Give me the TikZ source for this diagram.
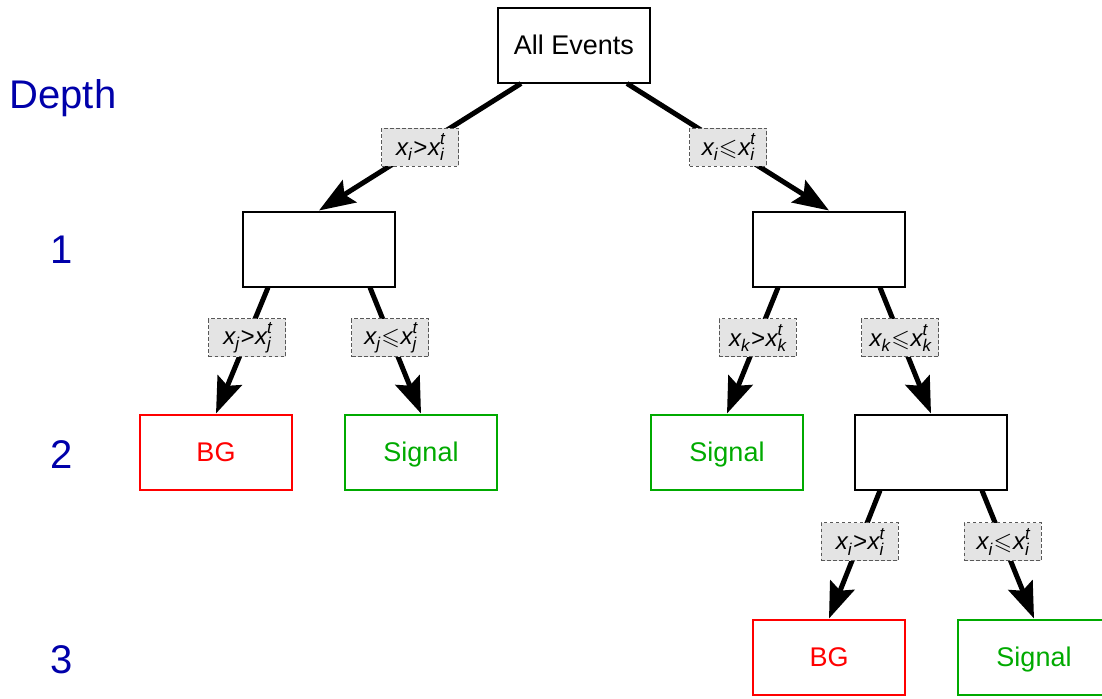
\documentclass[tikz,border=0pt]{standalone}
\usepackage{fontspec}
\usepackage{amssymb}
\setmainfont{Liberation Sans}
\usetikzlibrary{arrows.meta}
\definecolor{depthblue}{RGB}{0,0,170}
\definecolor{siggreen}{RGB}{0,170,0}
\definecolor{labgray}{RGB}{228,228,228}
\newcommand\subsz[1]{{\fontsize{8.5}{9}\selectfont #1}}
\newcommand\cond[2]{\itshape x\raisebox{-2.6pt}{\subsz{#1}}\kern0.6pt#2\kern0.4pt x\rlap{\raisebox{5.2pt}{\subsz{t}}}\raisebox{-2.6pt}{\subsz{#1}}\hspace{2pt}}
\begin{document}
\begin{tikzpicture}[x=0.5pt,y=-0.5pt,
  box/.style={draw=black,line width=1pt,rectangle,minimum width=76pt,minimum height=37.5pt,inner sep=0pt,text height=9.7pt,text depth=0pt,font=\fontsize{13.5}{16}\selectfont},
  bgbox/.style={box,draw=red,text=red},
  sigbox/.style={box,draw=siggreen,text=siggreen},
  arr/.style={line width=2.5pt,-{Stealth[length=18pt,width=13pt,inset=3pt]}},
  lab/.style={draw=black!65,dashed,dash pattern=on 1.8pt off 1.2pt,line width=0.5pt,fill=labgray,minimum width=38.5pt,minimum height=19pt,inner sep=1pt,font=\fontsize{12}{14}\selectfont},
  depth/.style={text=depthblue,font=\fontsize{20}{24}\selectfont,inner sep=0pt}
]
\useasboundingbox (0,0) rectangle (1102,698);
\clip (0,0) rectangle (1102,698);
% depth labels
\node[depth] (dlab) at (63,98) {Depth};
\node[depth] (d1) at (62,250) {1};
\node[depth] (d2) at (62,455) {2};
\node[depth] (d3) at (62,660) {3};
% nodes
\node[box] (top) at (574,45) {All Events};
\node[box] (l1) at (319,249) {};
\node[box] (r1) at (829,249) {};
\node[bgbox] (ll2) at (216,452) {BG};
\node[sigbox] (lr2) at (421,452) {Signal};
\node[sigbox] (rl2) at (727,452) {Signal};
\node[box] (rr2) at (931,452) {};
\node[bgbox] (rrl3) at (829,657) {BG};
\node[sigbox] (rrr3) at (1034,657) {Signal};
% connectors
\draw[arr] ([xshift=-26.5pt]top.south) -- (l1.north) node[lab,pos=.5] {\cond{i}{>}};
\draw[arr] ([xshift=26.5pt]top.south) -- (r1.north) node[lab,pos=.5] {\cond{i}{$\leqslant$}};
\draw[arr] ([xshift=-25.5pt]l1.south) -- (ll2.north) node[lab,pos=.4] {\cond{j}{>}};
\draw[arr] ([xshift=25.5pt]l1.south) -- (lr2.north) node[lab,pos=.4] {\cond{j}{$\leqslant$}};
\draw[arr] ([xshift=-25.5pt]r1.south) -- (rl2.north) node[lab,pos=.4] {\cond{k}{>}};
\draw[arr] ([xshift=25.5pt]r1.south) -- (rr2.north) node[lab,pos=.4] {\cond{k}{$\leqslant$}};
\draw[arr] ([xshift=-25.5pt]rr2.south) -- (rrl3.north) node[lab,pos=.4] {\cond{i}{>}};
\draw[arr] ([xshift=25.5pt]rr2.south) -- (rrr3.north) node[lab,pos=.4] {\cond{i}{$\leqslant$}};
\end{tikzpicture}
\end{document}
